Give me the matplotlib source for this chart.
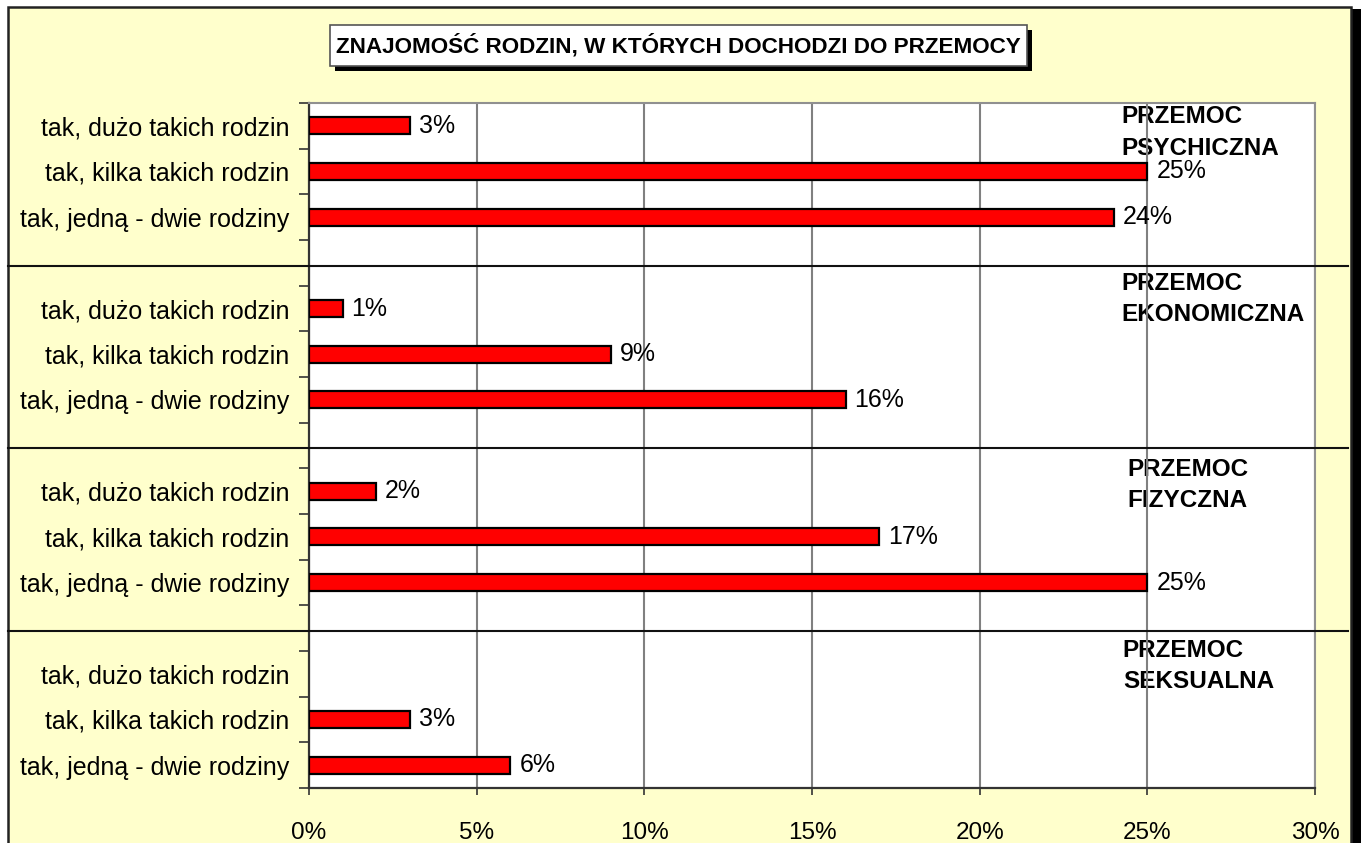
import numpy as np
import matplotlib
matplotlib.use("Agg")
import matplotlib.pyplot as plt
from matplotlib.patches import Rectangle

plt.rcParams['font.family'] = ['Liberation Sans', 'DejaVu Sans']

# ---------------- data ----------------
title = "ZNAJOMOŚĆ RODZIN, W KTÓRYCH DOCHODZI DO PRZEMOCY"
answers = ["tak, dużo takich rodzin", "tak, kilka takich rodzin", "tak, jedną - dwie rodziny"]
groups = ["PRZEMOC\nPSYCHICZNA", "PRZEMOC\nEKONOMICZNA", "PRZEMOC\nFIZYCZNA", "PRZEMOC\nSEKSUALNA"]
psychiczna = [3, 25, 24]
ekonomiczna = [1, 9, 16]
fizyczna = [2, 17, 25]
seksualna = [None, 3, 6]
x_ticks = [0, 5, 10, 15, 20, 25, 30]
x_tick_labels = ["0%", "5%", "10%", "15%", "20%", "25%", "30%"]

series = [psychiczna, ekonomiczna, fizyczna, seksualna]

# ---------------- layout ----------------
W, H = 1361, 843
FS = 18
FS_X = 17.5
FS_GROUP = 17.5
fig = plt.figure(figsize=(W / 100, H / 100), dpi=100, facecolor='white')

def fx(px):
    return px / W

def fy(py):
    return 1 - py / H

# chart area frame + shadow
fig.patches.append(Rectangle((fx(1351), fy(843)), fx(1361) - fx(1351), fy(9) - fy(843),
                             transform=fig.transFigure, facecolor='black', edgecolor='none', zorder=-3))
fig.patches.append(Rectangle((fx(8), fy(845)), fx(1351) - fx(8), fy(7) - fy(845),
                             transform=fig.transFigure, facecolor='#FFFFCC', edgecolor='#222222',
                             linewidth=1.8, zorder=-2))

ax = fig.add_axes([fx(309), fy(788), fx(1315) - fx(309), fy(103) - fy(788)])
ax.set_zorder(1)
ax.set_facecolor('white')

# category positions: 3 answers per group, blank row between groups
labels = []
values = []
for gi, s in enumerate(series):
    for a, v in zip(answers, s):
        labels.append(a)
        values.append(v)
    if gi < len(series) - 1:
        labels.append("")
        values.append(None)
n = len(labels)
ypos = np.arange(n)

vals = np.array([np.nan if v is None else v for v in values], dtype=float)
has = ~np.isnan(vals)
ax.barh(ypos[has], vals[has], height=0.37, color='#FF0000', edgecolor='black',
        linewidth=1.6, zorder=3)
for y, v in zip(ypos[has], vals[has]):
    ax.text(v + 0.27, y, f"{v:g}%", va='center', ha='left', fontsize=FS, color='black', zorder=4)

ax.set_xlim(0, 30)
ax.set_ylim(n - 0.5, -0.5)

ax.set_xticks(x_ticks)
ax.set_xticklabels(x_tick_labels, fontsize=FS_X)
ax.tick_params(axis='x', direction='out', length=5, width=1.2, color='#333333', pad=19.5)

ax.set_yticks(np.arange(n + 1) - 0.5)
ax.set_yticklabels([])
ax.set_yticks(ypos, minor=True)
ax.set_yticklabels(labels, minor=True, fontsize=FS)
ax.tick_params(axis='y', which='major', direction='out', length=7, width=1.2, color='#333333')
ax.tick_params(axis='y', which='minor', length=0, pad=14)

ax.set_axisbelow(True)
ax.grid(axis='x', color='#808080', linewidth=1.5, zorder=1)
ax.grid(axis='y', visible=False)

for side in ['top', 'right']:
    ax.spines[side].set_color('#909090')
    ax.spines[side].set_linewidth(1.5)
for side in ['left', 'bottom']:
    ax.spines[side].set_color('#333333')
    ax.spines[side].set_linewidth(1.6)

# separator lines across the whole chart at blank rows
for y in ypos[np.array([l == "" for l in labels])]:
    yy = ax.transData.transform((0, y + 0.06))[1] / H
    fig.add_artist(plt.Line2D([fx(8), fx(1348)], [yy, yy], transform=fig.transFigure,
                              color='#111111', linewidth=1.5, zorder=5))

# group labels (layout positions)
group_label_pos = [(24.24, -0.45), (24.24, 3.2), (24.39, 7.27), (24.27, 11.23)]
for i, (g, (gx, gy)) in enumerate(zip(groups, group_label_pos)):
    t = ax.text(gx, gy, g, fontsize=FS_GROUP, fontweight='bold', ha='left', va='top',
                linespacing=1.47, zorder=0.2)
    if i == 0:
        clip = Rectangle((0, -0.5), 30, 1.12, transform=ax.transData)
        t.set_clip_path(clip)

# title box with shadow
fig.patches.append(Rectangle((fx(335), fy(71)), fx(1032) - fx(335), fy(30) - fy(71),
                             transform=fig.transFigure, facecolor='black', edgecolor='none', zorder=6))
fig.patches.append(Rectangle((fx(330), fy(66)), fx(1027) - fx(330), fy(25) - fy(66),
                             transform=fig.transFigure, facecolor='white', edgecolor='#555555',
                             linewidth=1.2, zorder=7))
fig.text(fx(678.5), fy(46), title, fontsize=16.2, fontweight='bold', ha='center', va='center', zorder=8)

fig.savefig("out.png", dpi=100, facecolor='white')
